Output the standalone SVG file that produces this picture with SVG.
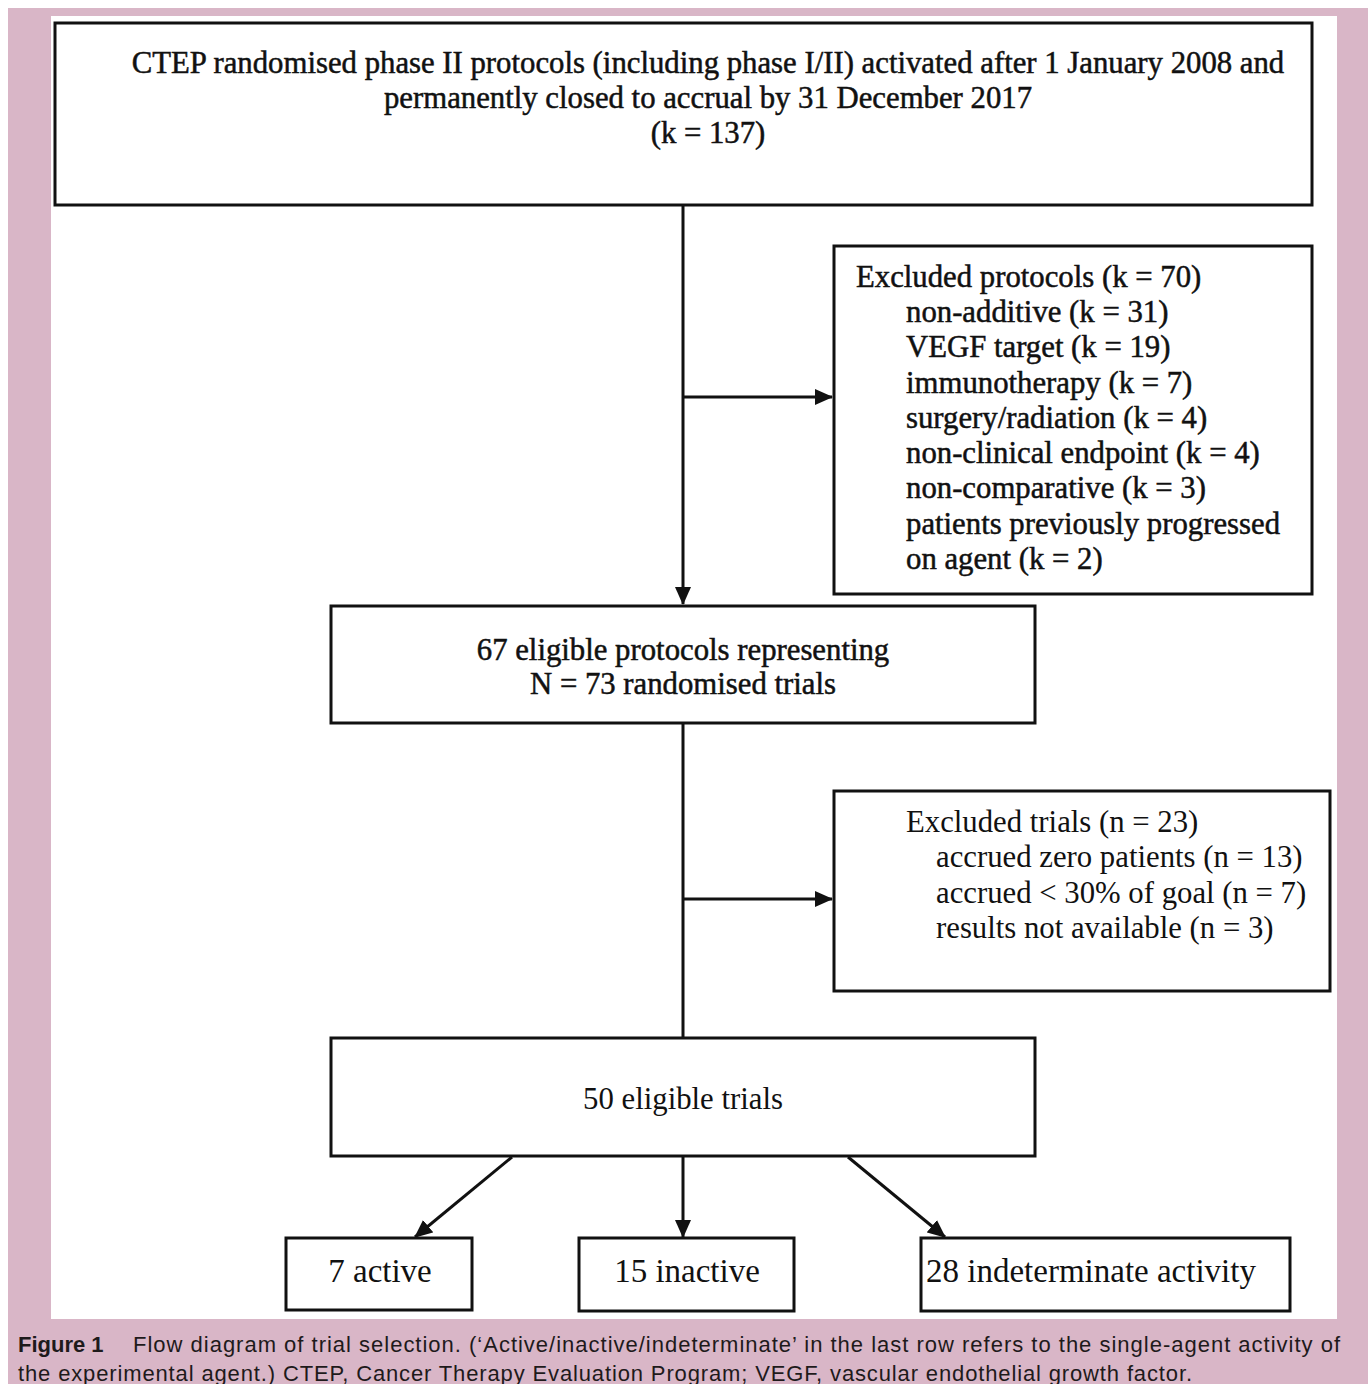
<svg xmlns="http://www.w3.org/2000/svg" width="1368" height="1384" viewBox="0 0 1368 1384">
<style>
.box{fill:#fff;stroke:#111;stroke-width:3}
.t{font-family:"Liberation Serif","Times New Roman",serif;font-size:30.75px;fill:#111}
.hv{stroke:#111;stroke-width:0.5}
.tb{font-family:"Liberation Serif","Times New Roman",serif;font-size:33px;fill:#111}
.c{text-anchor:middle}
.ln{stroke:#111;stroke-width:3;fill:none}
.cap{font-family:"Liberation Sans",Arial,sans-serif;font-size:22px;fill:#1e1a1b}
</style>
<defs>
<marker id="ah" markerUnits="userSpaceOnUse" markerWidth="18" markerHeight="16" refX="17" refY="8" orient="auto">
<path d="M0,0 L18,8 L0,16 Z" fill="#111"/>
</marker>
</defs>
<rect x="0" y="0" width="1368" height="1384" fill="#fff"/>
<rect x="8" y="8" width="1360" height="1376" fill="#d9b6c7"/>
<rect x="51" y="16" width="1286" height="1303" fill="#fff"/>

<g id="connectors">
<line class="ln" x1="683" y1="205" x2="683" y2="604" marker-end="url(#ah)"/>
<line class="ln" x1="683" y1="397" x2="832" y2="397" marker-end="url(#ah)"/>
<line class="ln" x1="683" y1="723" x2="683" y2="1038"/>
<line class="ln" x1="683" y1="899" x2="832" y2="899" marker-end="url(#ah)"/>
<line class="ln" x1="512" y1="1157" x2="415" y2="1237" marker-end="url(#ah)"/>
<line class="ln" x1="683" y1="1157" x2="683" y2="1237" marker-end="url(#ah)"/>
<line class="ln" x1="848" y1="1157" x2="945" y2="1237" marker-end="url(#ah)"/>
</g>

<g id="n1">
<rect class="box" x="55" y="23" width="1257" height="182"/>
<text class="t hv c" x="708" y="73">CTEP randomised phase II protocols (including phase I/II) activated after 1 January 2008 and</text>
<text class="t hv c" x="708" y="108">permanently closed to accrual by 31 December 2017</text>
<text class="t hv c" x="708" y="143">(k = 137)</text>
</g>

<g id="n2">
<rect class="box" x="834" y="246" width="478" height="348"/>
<text class="t hv" x="856" y="287">Excluded protocols (k = 70)</text>
<text class="t hv" x="906" y="322">non-additive (k = 31)</text>
<text class="t hv" x="906" y="357">VEGF target (k = 19)</text>
<text class="t hv" x="906" y="393">immunotherapy (k = 7)</text>
<text class="t hv" x="906" y="428">surgery/radiation (k = 4)</text>
<text class="t hv" x="906" y="463">non-clinical endpoint (k = 4)</text>
<text class="t hv" x="906" y="498">non-comparative (k = 3)</text>
<text class="t hv" x="906" y="534">patients previously progressed</text>
<text class="t hv" x="906" y="569">on agent (k = 2)</text>
</g>

<g id="n3">
<rect class="box" x="331" y="606" width="704" height="117"/>
<text class="t hv c" x="683" y="660">67 eligible protocols representing</text>
<text class="t hv c" x="683" y="694">N = 73 randomised trials</text>
</g>

<g id="n4">
<rect class="box" x="834" y="791" width="496" height="200"/>
<text class="t" x="906" y="832">Excluded trials (n = 23)</text>
<text class="t" x="936" y="867">accrued zero patients (n = 13)</text>
<text class="t" x="936" y="903">accrued &lt; 30% of goal (n = 7)</text>
<text class="t" x="936" y="938">results not available (n = 3)</text>
</g>

<g id="n5">
<rect class="box" x="331" y="1038" width="704" height="118"/>
<text class="t c" x="683" y="1109">50 eligible trials</text>
</g>

<g id="n6">
<rect class="box" x="286" y="1238" width="186" height="72"/>
<text class="tb c" x="380" y="1282">7 active</text>
</g>
<g id="n7">
<rect class="box" x="579" y="1238" width="215" height="73"/>
<text class="tb c" x="687" y="1282">15 inactive</text>
</g>
<g id="n8">
<rect class="box" x="921" y="1238" width="369" height="73"/>
<text class="tb c" x="1091" y="1282">28 indeterminate activity</text>
</g>

<g id="caption">
<text class="cap" x="18" y="1352"><tspan font-weight="bold">Figure 1</tspan></text>
<text class="cap" x="133" y="1352" textLength="1207">Flow diagram of trial selection. (‘Active/inactive/indeterminate’ in the last row refers to the single-agent activity of</text>
<text class="cap" x="18" y="1381" textLength="1174">the experimental agent.) CTEP, Cancer Therapy Evaluation Program; VEGF, vascular endothelial growth factor.</text>
</g>
</svg>
